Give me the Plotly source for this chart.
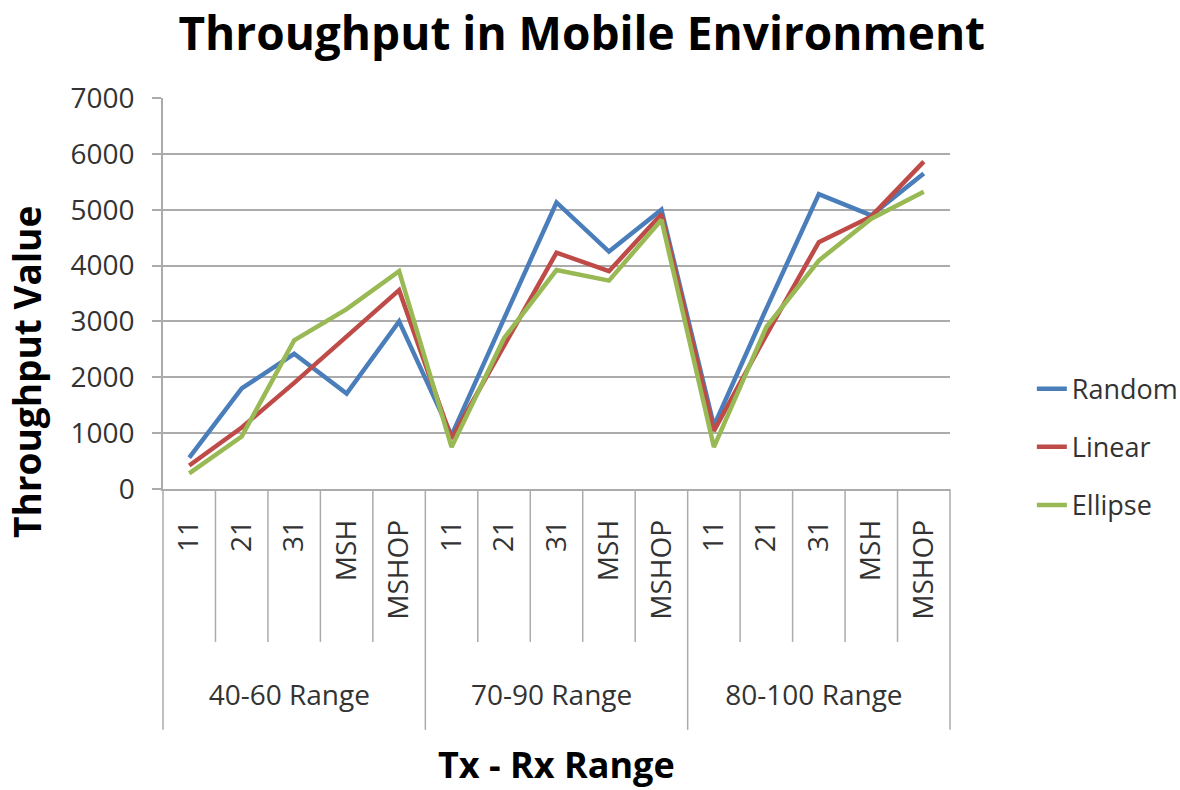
import plotly.graph_objects as go

groups = ["40-60 Range"] * 5 + ["70-90 Range"] * 5 + ["80-100 Range"] * 5
hops = ["11", "21", "31", "MSH", "MSHOP"] * 3

random_vals = [560, 1800, 2420, 1710, 3000, 960, 3050, 5130, 4250, 5000, 1130, 3230, 5280, 4900, 5650]
linear_vals = [420, 1100, 1900, 2730, 3560, 900, 2570, 4230, 3900, 4920, 1040, 2760, 4420, 4880, 5860]
ellipse_vals = [280, 940, 2660, 3220, 3900, 750, 2700, 3920, 3730, 4820, 750, 2900, 4090, 4840, 5320]

series = [
    ("Random", random_vals, "#4A7EBB"),
    ("Linear", linear_vals, "#BE4B48"),
    ("Ellipse", ellipse_vals, "#98B954"),
]

FONT = "Open Sans"
GRID = "#ABABAB"
GROUP_SIZE = 5

# pad the inner labels (non-breaking spaces) so that the group labels sit lower
PAD = "\u00a0" * 7
hop_labels = [PAD + h for h in hops]

fig = go.Figure()
for name, vals, color in series:
    fig.add_trace(go.Scatter(
        x=[groups, hop_labels], y=vals, name=name, mode="lines",
        line=dict(color=color, width=4.5), legendgroup=name,
    ))

# separators: short ones between inner categories, long ones between groups
shapes = []
n = len(hops)
for i in range(0, n + 1):
    is_group = (i % GROUP_SIZE == 0)
    y_end = -0.616 if is_group else -0.391
    if i == 0:
        xr, xv = "paper", 0
    elif i == n:
        xr, xv = "paper", 1
    else:
        xr, xv = "x", i - 0.5
    shapes.append(dict(type="line", xref=xr, yref="paper",
                       x0=xv, x1=xv, y0=0, y1=y_end,
                       line=dict(color=GRID, width=1.5)))

fig.update_layout(
    width=1180, height=790,
    margin=dict(l=163, r=230, t=98, b=301, autoexpand=False),
    paper_bgcolor="white", plot_bgcolor="white",
    font=dict(family=FONT, color="#222222"),
    title=dict(text="<b>Throughput in Mobile Environment</b>",
               x=0.493, xanchor="center", xref="container",
               y=0.978, yanchor="top", yref="container",
               pad=dict(t=0, b=0),
               font=dict(size=46, color="black", family=FONT)),
    showlegend=True,
    legend=dict(x=1.104, xanchor="left", y=0.107, yanchor="middle",
                font=dict(size=27, color="#333333"), tracegroupgap=20,
                bgcolor="rgba(0,0,0,0)"),
    shapes=shapes,
    annotations=[
        dict(text="<b>Throughput Value</b>", textangle=-90,
             xref="paper", yref="paper", x=(26 - 163) / 787, y=(489 - 372) / 391,
             xanchor="center", yanchor="middle", showarrow=False,
             font=dict(size=37, color="black", family=FONT)),
        dict(text="<b>Tx - Rx Range</b>",
             xref="paper", yref="paper", x=0.5, y=(489 - 764) / 391,
             xanchor="center", yanchor="middle", showarrow=False,
             font=dict(size=36, color="black", family=FONT)),
    ],
)

fig.update_xaxes(
    type="multicategory", range=[-0.5, n - 0.5],
    showline=True, linecolor=GRID, linewidth=1.5,
    showdividers=False,
    ticks="", tickangle=-90, ticklabelstandoff=18,
    tickfont=dict(size=28, color="#333333", family=FONT),
    showgrid=False, automargin=False,
)
fig.update_yaxes(
    range=[0, 7000], dtick=1000, showgrid=True, gridcolor=GRID, gridwidth=1.5,
    showline=True, linecolor=GRID, linewidth=1.5, ticks="outside", ticklen=9,
    tickcolor=GRID, tickwidth=1.5, zeroline=False, ticklabelstandoff=12,
    tickfont=dict(size=28, color="#333333", family=FONT), automargin=False,
)

fig.write_html(
    "out.html",
    config={"displayModeBar": False},
    post_script="document.body.style.margin='0px';document.body.style.padding='0px';",
)
